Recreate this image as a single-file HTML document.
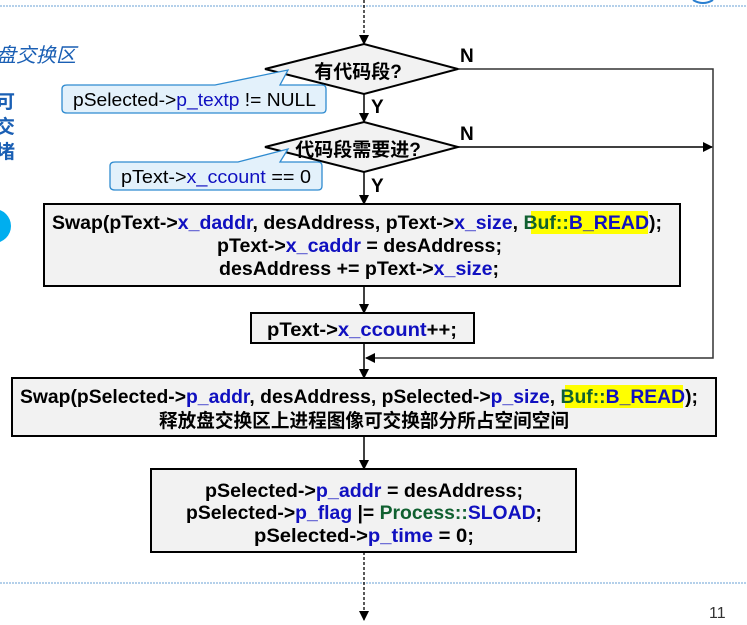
<!DOCTYPE html>
<html><head><meta charset="utf-8"><style>
html,body{margin:0;padding:0;background:#fff;}
svg{display:block}
text{font-family:"Liberation Sans","Noto Sans CJK SC",sans-serif;}
.b{font-weight:bold;font-size:19px;}
.bl{fill:#1010c0}
.gr{fill:#106030}
</style></head><body>
<svg width="747" height="625" viewBox="0 0 747 625" xmlns="http://www.w3.org/2000/svg">
<defs>
<marker id="ar" markerWidth="10" markerHeight="12" refX="9" refY="6" orient="auto" markerUnits="userSpaceOnUse">
<path d="M0,1 L10,6 L0,11 Z" fill="#000"/></marker>
</defs>
<line x1="0" y1="6" x2="747" y2="6" stroke="#9cc0e4" stroke-width="1.5" stroke-dasharray="2,1"/>
<line x1="0" y1="583" x2="747" y2="583" stroke="#9cc0e4" stroke-width="1.5" stroke-dasharray="2,1"/>
<path d="M693,0 Q703,6 713,0" fill="none" stroke="#2a7fd0" stroke-width="2"/>
<text x="-4" y="62" font-size="20" fill="#1a5fb4" style="font-style:italic">盘交换区</text>
<text x="-4" y="108" font-size="19" font-weight="bold" fill="#1a5fb4">可</text>
<text x="-4" y="133" font-size="19" font-weight="bold" fill="#1a5fb4">交</text>
<text x="-4" y="158" font-size="19" font-weight="bold" fill="#1a5fb4">堵</text>
<circle cx="-6" cy="226" r="17" fill="#00aeef"/>
<line x1="364" y1="0" x2="364" y2="44" stroke="#000" stroke-width="1.3" stroke-dasharray="3,2" marker-end="url(#ar)"/>
<polygon points="265,69 364,44 458,69 364,94" fill="#f2f2f2" stroke="#000" stroke-width="2"/>
<text x="358" y="78" text-anchor="middle" class="b" font-size="19">有代码段?</text>
<text x="460" y="62" class="b" font-size="17">N</text>
<line x1="364" y1="94" x2="364" y2="122" stroke="#000" stroke-width="1.5" marker-end="url(#ar)"/>
<text x="371" y="113" class="b" font-size="17">Y</text>
<polygon points="265,147 364,122 458,147 364,172" fill="#f2f2f2" stroke="#000" stroke-width="2"/>
<text x="358" y="156" text-anchor="middle" class="b" font-size="19">代码段需要进?</text>
<text x="460" y="140" class="b" font-size="17">N</text>
<line x1="364" y1="172" x2="364" y2="204" stroke="#000" stroke-width="1.5" marker-end="url(#ar)"/>
<text x="371" y="192" class="b" font-size="17">Y</text>
<polyline points="458,69 713,69 713,358 366,358" fill="none" stroke="#333" stroke-width="1.5" marker-end="url(#ar)"/>
<line x1="458" y1="147" x2="712" y2="147" stroke="#000" stroke-width="1.5" marker-end="url(#ar)"/>
<path d="M67,85 L215,85 L288,70 L280,85 L322,85 Q326,85 326,89 L326,109 Q326,113 322,113 L67,113 Q62,113 62,109 L62,89 Q62,85 67,85 Z" fill="#e3f1fb" stroke="#2f8bd0" stroke-width="1.3"/>
<text x="73" y="106" font-size="18" textLength="243" lengthAdjust="spacingAndGlyphs"><tspan>pSelected-&gt;</tspan><tspan class="bl">p_textp</tspan><tspan> != NULL</tspan></text>
<path d="M115,162 L238,162 L288,149 L280,162 L318,162 Q322,162 322,166 L322,186 Q322,190 318,190 L115,190 Q110,190 110,186 L110,166 Q110,162 115,162 Z" fill="#e3f1fb" stroke="#2f8bd0" stroke-width="1.3"/>
<text x="121" y="183" font-size="18" textLength="190" lengthAdjust="spacingAndGlyphs"><tspan>pText-&gt;</tspan><tspan class="bl">x_ccount</tspan><tspan> == 0</tspan></text>
<rect x="44" y="204" width="636" height="82" fill="#f2f2f2" stroke="#000" stroke-width="2"/>
<rect x="531" y="211" width="117" height="23" fill="#ffff00"/>
<text x="52" y="229" class="b" textLength="610" lengthAdjust="spacingAndGlyphs">Swap(pText-&gt;<tspan class="bl">x_daddr</tspan>, desAddress, pText-&gt;<tspan class="bl">x_size</tspan>, <tspan class="gr">Buf::</tspan><tspan class="bl">B_READ</tspan>);</text>
<text x="217" y="252" class="b" textLength="285" lengthAdjust="spacingAndGlyphs">pText-&gt;<tspan class="bl">x_caddr</tspan> = desAddress;</text>
<text x="219" y="275" class="b" textLength="280" lengthAdjust="spacingAndGlyphs">desAddress += pText-&gt;<tspan class="bl">x_size</tspan>;</text>
<line x1="364" y1="286" x2="364" y2="313" stroke="#000" stroke-width="1.5" marker-end="url(#ar)"/>
<rect x="251" y="313" width="223" height="30" fill="#f2f2f2" stroke="#000" stroke-width="2"/>
<text x="267" y="336" class="b" textLength="190" lengthAdjust="spacingAndGlyphs">pText-&gt;<tspan class="bl">x_ccount</tspan>++;</text>
<line x1="364" y1="343" x2="364" y2="378" stroke="#000" stroke-width="1.5" marker-end="url(#ar)"/>
<rect x="12" y="378" width="704" height="58" fill="#f2f2f2" stroke="#000" stroke-width="2"/>
<rect x="565" y="385" width="118" height="23" fill="#ffff00"/>
<text x="20" y="403" class="b" textLength="678" lengthAdjust="spacingAndGlyphs">Swap(pSelected-&gt;<tspan class="bl">p_addr</tspan>, desAddress, pSelected-&gt;<tspan class="bl">p_size</tspan>, <tspan class="gr">Buf::</tspan><tspan class="bl">B_READ</tspan>);</text>
<text x="364" y="427" class="b" text-anchor="middle" font-size="18" textLength="410" lengthAdjust="spacingAndGlyphs">释放盘交换区上进程图像可交换部分所占空间空间</text>
<line x1="364" y1="436" x2="364" y2="469" stroke="#000" stroke-width="1.5" marker-end="url(#ar)"/>
<rect x="151" y="469" width="425" height="83" fill="#f2f2f2" stroke="#000" stroke-width="2"/>
<text x="205" y="497" class="b" textLength="318" lengthAdjust="spacingAndGlyphs">pSelected-&gt;<tspan class="bl">p_addr</tspan> = desAddress;</text>
<text x="186" y="519" class="b" textLength="356" lengthAdjust="spacingAndGlyphs">pSelected-&gt;<tspan class="bl">p_flag</tspan> |= <tspan class="gr">Process::</tspan><tspan class="bl">SLOAD</tspan>;</text>
<text x="254" y="542" class="b" textLength="220" lengthAdjust="spacingAndGlyphs">pSelected-&gt;<tspan class="bl">p_time</tspan> = 0;</text>
<line x1="364" y1="552" x2="364" y2="620" stroke="#000" stroke-width="1.3" stroke-dasharray="3,2" marker-end="url(#ar)"/>
<text x="709" y="618" font-size="16" fill="#333">11</text>
</svg>
</body></html>
